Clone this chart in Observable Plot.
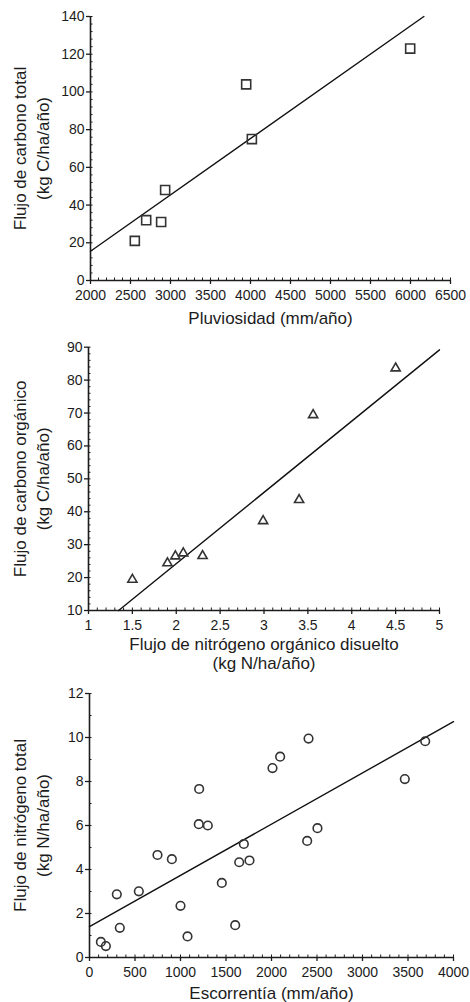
<!DOCTYPE html>
<html>
<head>
<meta charset="utf-8">
<script src="https://cdn.jsdelivr.net/npm/d3@7"></script>
<script src="https://cdn.jsdelivr.net/npm/@observablehq/plot@0.6"></script>
<style>
  html, body { margin: 0; padding: 0; background: #fff; }
  svg { display: block; }
</style>
</head>
<body>
<div id="chart"></div>
<script>
// Panel 1: Pluviosidad vs flujo de carbono total
const p1X = [2554, 2696, 2883, 2933, 3946, 4017, 5996];
const p1Y = [21, 32, 31, 48, 104, 75, 123];
const p1TrendX = [2000, 6167];
const p1TrendY = [15.5, 140];
const p1XTicks = [2000, 2500, 3000, 3500, 4000, 4500, 5000, 5500, 6000, 6500];
const p1YTicks = [0, 20, 40, 60, 80, 100, 120, 140];

// Panel 2: Flujo de nitrógeno orgánico disuelto vs flujo de carbono orgánico
const p2X = [1.5, 1.9, 1.99, 2.08, 2.3, 2.99, 3.4, 3.56, 4.5];
const p2Y = [19.4, 24.4, 26.5, 27.4, 26.6, 37.2, 43.6, 69.4, 83.6];
const p2TrendX = [1.343, 5];
const p2TrendY = [10, 89.2];
const p2XTicks = [1, 1.5, 2, 2.5, 3, 3.5, 4, 4.5, 5];
const p2YTicks = [10, 20, 30, 40, 50, 60, 70, 80, 90];

// Panel 3: Escorrentía vs flujo de nitrógeno total
const p3X = [125, 180, 300, 333, 542, 747, 905, 1000, 1077, 1205, 1201, 1300, 1454, 1601, 1645, 1696, 1758, 2011, 2095, 2407, 2392, 2505, 3465, 3689];
const p3Y = [0.71, 0.52, 2.87, 1.35, 3.01, 4.66, 4.47, 2.35, 0.96, 7.66, 6.06, 6.0, 3.39, 1.47, 4.33, 5.16, 4.41, 8.61, 9.13, 9.95, 5.30, 5.88, 8.11, 9.83];
const p3TrendX = [0, 4000];
const p3TrendY = [1.40, 10.72];
const p3XTicks = [0, 500, 1000, 1500, 2000, 2500, 3000, 3500, 4000];
const p3YTicks = [0, 2, 4, 6, 8, 10, 12];

const FONT = "'Liberation Sans', Arial, Helvetica, sans-serif";
const INK = "#1c1c1c";

function panel(o) {
  const pts = o.xs.map((x, i) => ({x, y: o.ys[i]}));
  const trend = o.tx.map((x, i) => ({x, y: o.ty[i]}));
  const [x0, x1] = [o.xTicks[0], o.xTicks[o.xTicks.length - 1]];
  const [y0, y1] = [o.yTicks[0], o.yTicks[o.yTicks.length - 1]];
  const xMinor = d3.range(x0, x1 + 1e-9, o.xMinor).map(v => +v.toFixed(6));
  const yMinor = d3.range(y0, y1 + 1e-9, o.yMinor).map(v => +v.toFixed(6));
  const marks = [
    Plot.axisX({ticks: xMinor, tickSize: -2.5, tickFormat: () => "", label: null, stroke: INK}),
    Plot.axisY({ticks: yMinor, tickSize: -2.5, tickFormat: () => "", label: null, stroke: INK}),
    Plot.axisX({ticks: o.xTicks, tickSize: 4, tickPadding: 6, tickFormat: d => String(d), label: null,
      fontSize: 14, fill: INK, stroke: INK, strokeWidth: 1.3}),
    Plot.axisY({ticks: o.yTicks, tickSize: 4, tickPadding: 2, tickFormat: d => String(d), label: null,
      fontSize: 14, fill: INK, stroke: INK, strokeWidth: 1.3}),
    Plot.ruleX([x0], {stroke: INK, strokeWidth: 1.6}),
    Plot.ruleY([y0], {stroke: INK, strokeWidth: 1.6}),
    Plot.line(trend, {x: "x", y: "y", stroke: "#111", strokeWidth: 1.4}),
    Plot.dot(pts, {x: "x", y: "y", symbol: o.symbol, r: o.r, stroke: "#333", strokeWidth: 1.6, fill: "none"})
  ];
  o.yTitle.forEach((t, i) => marks.push(
    Plot.text([t], {frameAnchor: "left", dx: o.yTitleX[i] - o.ml, rotate: -90, fontSize: 17, fill: INK,
      textAnchor: "middle", lineAnchor: "middle"})
  ));
  o.xTitle.forEach((t, i) => marks.push(
    Plot.text([t], {frameAnchor: "bottom", dy: o.xTitleDy[i], fontSize: 17, fill: INK,
      textAnchor: "middle", lineAnchor: "middle"})
  ));
  return Plot.plot({
    width: 470,
    height: o.height,
    marginTop: o.mt, marginRight: o.mr, marginBottom: o.mb, marginLeft: o.ml,
    style: {fontFamily: FONT, color: INK, background: "#fff", overflow: "visible"},
    x: {domain: [x0, x1]},
    y: {domain: [y0, y1]},
    marks
  });
}

const root = document.getElementById("chart");
root.append(panel({
  xs: p1X, ys: p1Y, tx: p1TrendX, ty: p1TrendY, xTicks: p1XTicks, yTicks: p1YTicks,
  xMinor: 100, yMinor: 4, symbol: "square", r: 5.1,
  height: 330, mt: 16, mr: 20, mb: 50, ml: 90,
  yTitle: ["Flujo de carbono total", "(kg C/ha/año)"], yTitleX: [20, 43],
  xTitle: ["Pluviosidad (mm/año)"], xTitleDy: [38]
}));
root.append(panel({
  xs: p2X, ys: p2Y, tx: p2TrendX, ty: p2TrendY, xTicks: p2XTicks, yTicks: p2YTicks,
  xMinor: 0.1, yMinor: 2, symbol: "triangle", r: 3.4,
  height: 345, mt: 16.7, mr: 31, mb: 65, ml: 88,
  yTitle: ["Flujo de carbono orgánico", "(kg C/ha/año)"], yTitleX: [20, 43],
  xTitle: ["Flujo de nitrógeno orgánico disuelto", "(kg N/ha/año)"], xTitleDy: [34, 53]
}));
root.append(panel({
  xs: p3X, ys: p3Y, tx: p3TrendX, ty: p3TrendY, xTicks: p3XTicks, yTicks: p3YTicks,
  xMinor: 100, yMinor: 1, symbol: "circle", r: 4.3,
  height: 327, mt: 18, mr: 17, mb: 45, ml: 89,
  yTitle: ["Flujo de nitrógeno total", "(kg N/ha/año)"], yTitleX: [20, 43],
  xTitle: ["Escorrentía (mm/año)"], xTitleDy: [36]
}));
</script>
</body>
</html>
